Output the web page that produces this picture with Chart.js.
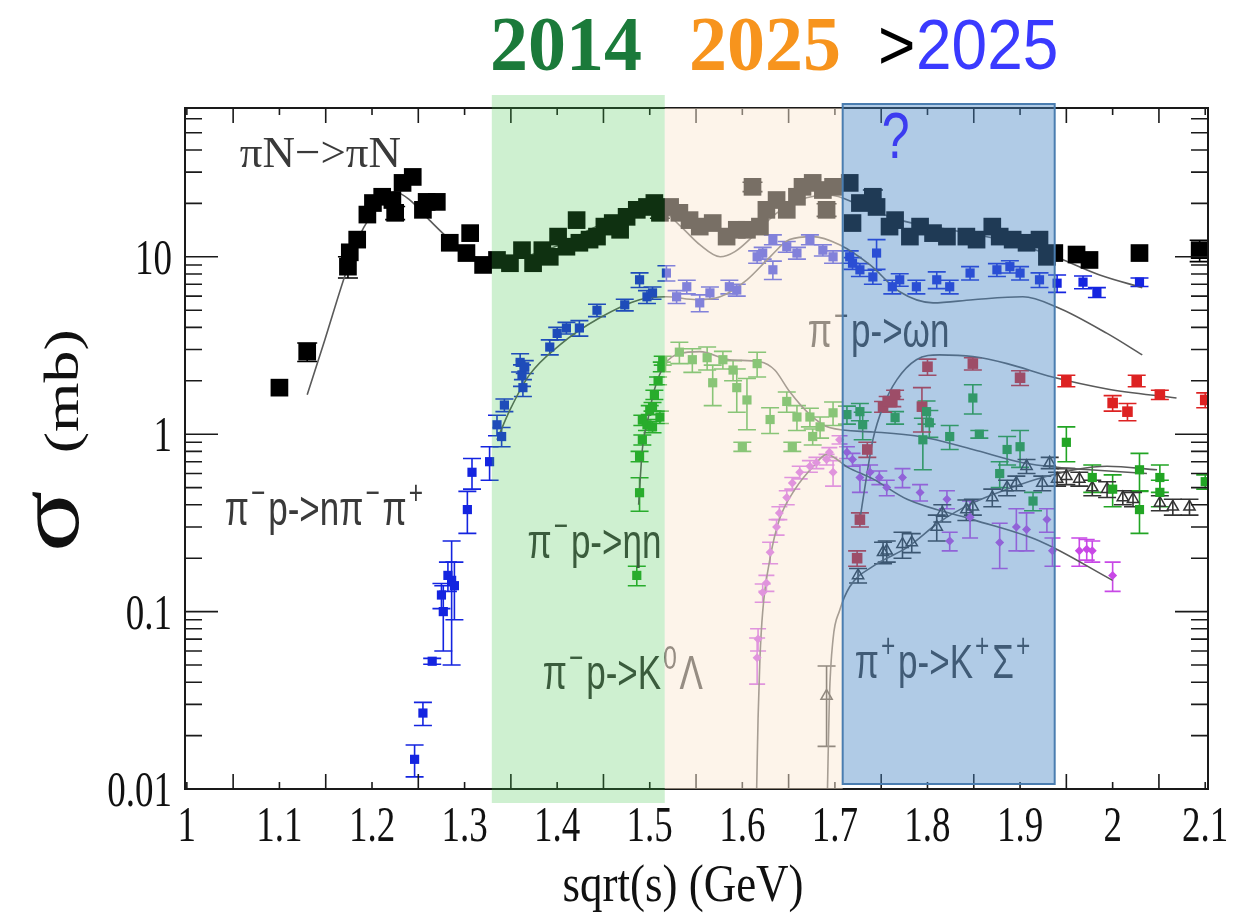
<!DOCTYPE html>
<html><head><meta charset="utf-8">
<script src="https://cdn.jsdelivr.net/npm/chart.js@4/dist/chart.umd.min.js"></script>
<style>html,body{margin:0;padding:0;background:#fff;}#wrap{width:1241px;height:918px;}</style>
</head><body><div id="wrap"><canvas id="c" width="1241" height="918"></canvas></div>
<script>
// ---------- tick labels ----------
const xTickValues = [1,1.1,1.2,1.3,1.4,1.5,1.6,1.7,1.8,1.9,2,2.1];
const xTickLabels = ['1','1.1','1.2','1.3','1.4','1.5','1.6','1.7','1.8','1.9','2','2.1'];
const yTickValues = [0.01,0.1,1,10];
const yTickLabels = ['0.01','0.1','1','10'];

// ---------- data: [sqrt(s) GeV, sigma mb, error mb] ----------
const piN_data = [[1.100,1.83,0],[1.130,2.92,0.35],[1.174,8.8,1.2],[1.176,10.6,0],[1.184,12.5,0],[1.195,17.3,0],[1.201,20.1,0],[1.211,21.8,0],[1.222,20.9,0],[1.225,17.7,1.5],[1.233,26.1,0],[1.244,28.2,0],[1.255,18.4,0],[1.259,20.4,0],[1.270,20.4,0],[1.284,12.0,0],[1.302,10.5,0],[1.306,13.6,0],[1.320,9.0,0],[1.335,9.6,0],[1.349,9.2,0],[1.362,10.9,0],[1.374,9.2,0],[1.384,10.9,0],[1.392,10.0,0],[1.401,13.0,0],[1.410,11.4,0],[1.421,16.1,0],[1.424,12.0,0],[1.435,12.5,0],[1.443,13.0,0],[1.451,14.8,0],[1.460,15.5,0],[1.468,14.2,0],[1.475,16.8,0],[1.486,18.4,0],[1.497,19.1,0],[1.505,20.1,0],[1.511,17.7,1.2],[1.522,19.1,0],[1.532,17.7,0],[1.543,16.1,0],[1.554,14.8,0],[1.568,15.5,0],[1.583,13.0,0],[1.594,14.2,0],[1.605,14.2,0],[1.611,24.8,1.5],[1.619,14.8,0],[1.626,18.4,0],[1.637,20.9,0],[1.648,18.4,0],[1.659,21.8,0],[1.665,24.8,0],[1.676,26.1,0],[1.687,23.8,0],[1.691,18.4,1.5],[1.698,24.8,0],[1.716,26.1,0],[1.719,15.5,0],[1.727,20.1,0],[1.741,21.8,2],[1.745,19.1,0],[1.759,14.8,0],[1.765,16.1,0],[1.781,13.0,0],[1.792,14.8,0],[1.806,13.6,0],[1.821,13.0,0],[1.842,13.0,0],[1.853,12.5,0],[1.870,14.8,0],[1.878,13.0,0],[1.892,12.5,0],[1.907,12.0,0],[1.921,12.5,0],[1.929,10.0,0],[1.937,10.5,0],[1.961,10.3,0],[1.975,9.6,0],[2.029,10.5,0],[2.094,10.9,1.5]];
const nPiPi_data = [[1.246,0.0147,0.003],[1.255,0.0268,0.004],[1.265,0.0525,0.002],[1.275,0.124,0.02],[1.277,0.1,0.04],[1.282,0.16,0.03],[1.286,0.15,0.1],[1.289,0.14,0.05],[1.303,0.376,0.1],[1.308,0.61,0.12],[1.327,0.70,0.15],[1.335,1.13,0.15],[1.340,0.97,0.12],[1.343,1.46,0.12],[1.360,2.54,0.3],[1.362,2.16,0.3],[1.363,1.83,0.2],[1.365,2.4,0.2],[1.392,3.1,0.3],[1.400,3.7,0.3],[1.410,3.97,0.3],[1.424,3.97,0.4],[1.443,5.0,0.4],[1.473,5.36,0.4],[1.489,7.42,0.7],[1.497,5.95,0.5],[1.503,6.26,0.5],[1.518,8.1,0.8],[1.529,5.95,0.5],[1.540,6.78,0.6],[1.554,5.5,0.6],[1.565,6.26,0.5],[1.586,6.78,0.6],[1.594,6.5,0.5],[1.616,10.0,0.8],[1.622,10.5,0.8],[1.633,8.45,1.0],[1.633,12.5,0.8],[1.648,11.4,0.8],[1.659,10.5,0.8],[1.673,12.5,0.8],[1.687,10.9,0.8],[1.698,10.0,0.8],[1.716,10.0,0.8],[1.719,9.2,0.7],[1.727,8.45,0.7],[1.741,7.7,0.7],[1.745,10.5,2.0],[1.762,6.78,0.6],[1.770,7.42,0.6],[1.788,6.78,0.6],[1.810,7.42,0.8],[1.824,6.78,0.6],[1.846,8.1,0.7],[1.875,8.45,0.7],[1.889,8.8,0.7],[1.900,8.1,0.7],[1.921,7.42,0.7],[1.940,7.1,0.8],[1.968,7.2,0.6],[1.983,6.3,0.4],[2.029,7.2,0.4]];
const etaN_data = [[1.486,0.16,0.02],[1.489,0.468,0.1],[1.489,0.75,0.05],[1.492,0.93,0.06],[1.492,1.2,0.08],[1.497,1.13,0.08],[1.500,1.37,0.08],[1.503,1.1,0.08],[1.503,1.43,0.08],[1.505,1.67,0.1],[1.509,2.0,0.1],[1.511,1.25,0.1],[1.513,2.4,0.15],[1.514,2.6,0.15],[1.532,2.9,0.4],[1.546,2.63,0.4],[1.562,2.7,0.4],[1.568,1.95,0.5],[1.579,2.63,0.3],[1.590,2.3,0.3],[1.594,1.83,0.5],[1.605,1.56,0.5],[1.600,0.85,0.05],[1.616,2.5,0.4],[1.630,1.21,0.2],[1.648,1.53,0.2],[1.654,0.85,0.05],[1.659,1.25,0.2],[1.673,1.25,0.15],[1.676,0.97,0.1],[1.684,1.1,0.15],[1.698,1.32,0.2],[1.713,1.29,0.15],[1.727,1.34,0.15],[1.730,1.13,0.2],[1.765,1.24,0.1],[1.795,0.93,0.3],[1.799,1.34,0.2],[1.802,1.16,0.2],[1.824,0.97,0.15],[1.849,1.6,0.3],[1.856,1.0,0.05],[1.878,0.6,0.1],[1.886,0.82,0.15],[1.900,0.85,0.2],[1.914,0.42,0.05],[1.950,0.9,0.2],[1.978,0.57,0.1],[2.000,0.49,0.1],[2.029,0.63,0.15],[2.029,0.376,0.1],[2.051,0.57,0.1],[2.051,0.47,0.08],[2.100,0.54,0.05]];
const omegaN_data = [[1.724,0.2,0.02],[1.727,0.33,0.03],[1.735,0.82,0.08],[1.752,1.43,0.1],[1.757,1.53,0.1],[1.762,1.53,0.1],[1.765,1.67,0.1],[1.794,1.43,0.4],[1.800,2.4,0.25],[1.849,2.5,0.2],[1.900,2.08,0.2],[1.950,2.0,0.15],[2.000,1.5,0.15],[2.016,1.34,0.15],[2.026,2.0,0.15],[2.051,1.67,0.1],[2.100,1.56,0.15]];
const K0Lambda_data = [[1.616,0.055,0.016],[1.617,0.07,0.01],[1.622,0.128,0.015],[1.626,0.145,0.015],[1.630,0.216,0.03],[1.637,0.30,0.03],[1.640,0.36,0.03],[1.648,0.44,0.04],[1.654,0.53,0.04],[1.662,0.61,0.05],[1.673,0.66,0.05],[1.680,0.69,0.05],[1.691,0.72,0.05],[1.694,0.79,0.05],[1.698,0.61,0.1],[1.705,0.93,0.05],[1.713,0.79,0.06],[1.719,0.72,0.06],[1.727,0.57,0.1],[1.738,0.61,0.06],[1.748,0.57,0.05],[1.756,0.5,0.05],[1.773,0.57,0.07],[1.792,0.47,0.05],[1.821,0.43,0.05],[1.824,0.25,0.03],[1.846,0.34,0.08],[1.878,0.245,0.07],[1.896,0.30,0.08],[1.907,0.29,0.07],[1.929,0.33,0.05],[1.935,0.22,0.04],[1.964,0.22,0.04],[1.972,0.225,0.03],[1.978,0.22,0.03],[2.000,0.16,0.03]];
const KSigma_data = [[1.691,0.0334,0.016],[1.725,0.16,0.015],[1.752,0.216,0.03],[1.756,0.22,0.03],[1.773,0.24,0.04],[1.783,0.245,0.03],[1.810,0.30,0.05],[1.816,0.36,0.04],[1.842,0.376,0.05],[1.849,0.39,0.04],[1.870,0.44,0.05],[1.886,0.50,0.05],[1.896,0.53,0.05],[1.907,0.66,0.06],[1.924,0.53,0.05],[1.932,0.69,0.05],[1.940,0.56,0.05],[1.950,0.58,0.06],[1.964,0.56,0.05],[1.978,0.50,0.05],[1.994,0.49,0.05],[2.011,0.44,0.04],[2.022,0.43,0.04],[2.051,0.41,0.04],[2.065,0.39,0.04],[2.083,0.39,0.04]];

// ---------- model curves: [sqrt(s), sigma] ----------
const piN_model = [[1.130,1.67],[1.149,3.4],[1.171,7.9],[1.187,13.3],[1.208,19.6],[1.225,23.2],[1.241,20.9],[1.262,16.1],[1.284,12.5],[1.306,10.3],[1.327,9.4],[1.36,9.9],[1.403,11.7],[1.446,15.1],[1.489,17.9],[1.511,18.4],[1.532,15.1],[1.554,11.7],[1.576,10.0],[1.592,10.7],[1.613,13.3],[1.635,17.3],[1.662,20.9],[1.694,22.3],[1.727,19.6],[1.77,16.1],[1.824,14.2],[1.878,12.5],[1.932,10.3],[1.986,7.9],[2.032,6.7]];
const nPiPi_model = [[1.335,0.93],[1.349,1.37],[1.37,2.16],[1.403,3.19],[1.446,4.53],[1.489,5.73],[1.518,5.95],[1.551,5.73],[1.576,5.95],[1.605,7.42],[1.63,10.0],[1.651,12.5],[1.676,13.0],[1.705,11.7],[1.738,9.0],[1.77,6.35],[1.806,5.5],[1.849,5.73],[1.903,5.95],[1.94,5.2],[1.994,3.7],[2.032,2.8]];
const etaN_model = [[1.488,0.4],[1.492,0.82],[1.498,1.21],[1.505,1.78],[1.516,2.46],[1.532,2.84],[1.554,2.92],[1.586,2.63],[1.619,2.56],[1.635,2.3],[1.651,1.74],[1.673,1.29],[1.694,1.09],[1.741,1.03],[1.792,0.97],[1.849,0.82],[1.903,0.69],[1.94,0.65],[1.975,0.63],[2.037,0.6]];
const omegaN_model = [[1.727,0.33],[1.734,0.57],[1.741,0.93],[1.752,1.43],[1.767,2.03],[1.788,2.63],[1.813,2.8],[1.849,2.74],[1.886,2.5],[1.935,2.1],[1.994,1.8],[2.069,1.6]];
const K0Lambda_model = [[1.6155,0.0101],[1.617,0.025],[1.619,0.054],[1.622,0.1],[1.63,0.2],[1.64,0.33],[1.657,0.49],[1.678,0.67],[1.691,0.77],[1.714,0.65],[1.741,0.56],[1.778,0.43],[1.849,0.33],[1.921,0.25],[2.0,0.15]];
const KSigma_model = [[1.692,0.0101],[1.694,0.032],[1.698,0.07],[1.705,0.101],[1.716,0.138],[1.741,0.18],[1.778,0.23],[1.813,0.32],[1.849,0.41],[1.886,0.49],[1.929,0.58],[1.994,0.66],[2.048,0.63]];

// ---------- annotation content ----------
const eraBands = [['2014',1.3294,1.5162],['2025',1.5162,1.7084],['>2025',1.7084,1.9374]];
const reactionLabels = [
  {segs:[['πN−>πN',0]], x:1.0572, y:32.1, serif:true},
  {segs:[['π',0],['−',1],['p->nπ',0],['−',1],['π',0],['+',1]], x:1.041, y:0.309},
  {segs:[['π',0],['−',1],['p->ηn',0]], x:1.368, y:0.2015},
  {segs:[['π',0],['−',1],['p->K',0],['0',1],['Λ',0]], x:1.3845, y:0.0364},
  {segs:[['π',0],['−',1],['p->ωn',0]], x:1.6706, y:3.11},
  {segs:[['π',0],['+',1],['p->K',0],['+',1],['Σ',0],['+',1]], x:1.7214, y:0.0425}
];

const toPts = a => a.map(p => ({x:p[0], y:p[1], e:p[2]}));
const toLine = a => a.map(p => ({x:p[0], y:p[1]}));

function ptsDS(label, arr, style, radius, color, extra){
  return Object.assign({label, data:toPts(arr), showLine:false, pointStyle:style, pointRadius:radius,
    pointBackgroundColor:color, pointBorderColor:color, pointBorderWidth:0, errColor:color, errs:true, capW:9}, extra||{});
}
function lineDS(label, arr){
  return {label, data:toLine(arr), showLine:true, pointRadius:0, borderColor:'#5a5a5a', borderWidth:1.6,
    cubicInterpolationMode:'monotone', fill:false};
}

const SERIF = '"Liberation Serif", "Times New Roman", serif';
const SANS = '"Liberation Sans", Arial, sans-serif';
const SY = 1.35;

function rich(ctx, segs, x, y, o){
  ctx.save();
  const sz = o.size;
  let w = 0;
  for (const [t,sup] of segs){ ctx.font = `${o.weight||'normal'} ${sup?sz*0.7:sz}px ${o.family}`; w += ctx.measureText(t).width + (sup? sz*0.14:0); }
  let sx = o.sx||1;
  let x0 = x;
  if (o.align==='center') x0 = x - w*sx/2; else if (o.align==='right') x0 = x - w*sx;
  ctx.translate(x0, y); ctx.scale(sx, o.sy||1);
  ctx.fillStyle = o.color; ctx.textBaseline='alphabetic'; ctx.textAlign='left';
  let cx = 0;
  for (const [t,sup] of segs){
    ctx.font = `${o.weight||'normal'} ${sup?sz*0.7:sz}px ${o.family}`;
    if (sup) cx += sz*0.06;
    ctx.fillText(t, cx, sup ? -sz*0.42 : 0);
    cx += ctx.measureText(t).width + (sup? sz*0.08:0);
  }
  ctx.restore();
}

const deco = {
  id:'deco',
  beforeDatasetsDraw(chart){
    const ctx=chart.ctx, xs=chart.scales.x, ys=chart.scales.y, a=chart.chartArea;
    ctx.save();
    ctx.beginPath(); ctx.rect(a.left,a.top,a.right-a.left,a.bottom-a.top); ctx.clip();
    chart.data.datasets.forEach(ds=>{
      if(!ds.errs) return;
      ctx.strokeStyle=ds.errColor; ctx.lineWidth=1.6;
      ds.data.forEach(p=>{
        if(!p.e) return;
        const px=xs.getPixelForValue(p.x);
        const lo=Math.max(p.y-p.e, 0.0101);
        const y1=ys.getPixelForValue(lo), y2=ys.getPixelForValue(p.y+p.e);
        ctx.beginPath();
        ctx.moveTo(px,y1); ctx.lineTo(px,y2);
        ctx.moveTo(px-ds.capW,y1); ctx.lineTo(px+ds.capW,y1);
        ctx.moveTo(px-ds.capW,y2); ctx.lineTo(px+ds.capW,y2);
        ctx.stroke();
      });
    });
    ctx.restore();
  },
  afterDraw(chart){
    const ctx=chart.ctx, xs=chart.scales.x, ys=chart.scales.y, a=chart.chartArea;
    ctx.save();
    // frame
    ctx.strokeStyle='#1a1a1a'; ctx.lineWidth=2;
    ctx.strokeRect(a.left,a.top,a.right-a.left,a.bottom-a.top);
    ctx.lineWidth=1.6;
    ctx.beginPath();
    for(let i=0;i<=22;i++){
      const v=1+i*0.05, px=xs.getPixelForValue(v), L=(i%2)?15:7;
      ctx.moveTo(px,a.bottom); ctx.lineTo(px,a.bottom-L);
      ctx.moveTo(px,a.top); ctx.lineTo(px,a.top+L);
    }
    for(let d=-2; d<=1; d++){
      for(let m=1;m<=9;m++){
        const v=m*Math.pow(10,d); if(v>69) break;
        const py=ys.getPixelForValue(v), L=(m===1)?33:17;
        ctx.moveTo(a.left,py); ctx.lineTo(a.left+L,py);
        ctx.moveTo(a.right,py); ctx.lineTo(a.right-L,py);
      }
    }
    ctx.stroke();
    // tick labels
    xTickValues.forEach((v,i)=>rich(ctx,[[xTickLabels[i],0]], xs.getPixelForValue(v), 841, {size:37,family:SERIF,color:'#111',sy:SY,align:'center'}));
    yTickValues.forEach((v,i)=>rich(ctx,[[yTickLabels[i],0]], 172, ys.getPixelForValue(v)+17, {size:37,family:SERIF,color:'#111',sy:SY,align:'right'}));
    // axis titles
    rich(ctx,[['sqrt(s) (GeV)',0]], 683, 901, {size:45,family:SERIF,color:'#111',sy:1.18,align:'center'});
    ctx.save();
    ctx.translate(78,552); ctx.rotate(-Math.PI/2); ctx.scale(1.3,1);
    ctx.fillStyle='#111'; ctx.textBaseline='alphabetic'; ctx.textAlign='left';
    ctx.font=`88px ${SERIF}`; ctx.fillText('σ',0,0);
    ctx.font=`49px ${SERIF}`; ctx.fillText('(mb)',76,0);
    ctx.restore();
    // reaction labels
    reactionLabels.forEach(l=>{
      const px=xs.getPixelForValue(l.x), py=ys.getPixelForValue(l.y);
      if(l.serif) rich(ctx,l.segs,px,py,{size:45,family:SERIF,color:'#3a3a3a',sy:1.0});
      else rich(ctx,l.segs,px,py,{size:35,family:SANS,color:'#3a3a3a',sy:1.38});
    });
    // era bands (translucent overlays)
    const [g,b,bl]=eraBands;
    let x1=xs.getPixelForValue(g[1]), x2=xs.getPixelForValue(g[2]);
    ctx.fillStyle='rgba(60,196,68,0.25)'; ctx.fillRect(x1,a.top-13,x2-x1,a.bottom-a.top+27);
    x1=xs.getPixelForValue(b[1]); x2=xs.getPixelForValue(b[2]);
    ctx.fillStyle='rgba(250,231,212,0.48)'; ctx.fillRect(x1,a.top,x2-x1,a.bottom-a.top);
    x1=xs.getPixelForValue(bl[1]); x2=xs.getPixelForValue(bl[2]);
    ctx.fillStyle='rgba(72,135,198,0.43)'; ctx.fillRect(x1,a.top-4,x2-x1,a.bottom-a.top-1);
    ctx.strokeStyle='#4a7db0'; ctx.lineWidth=2; ctx.strokeRect(x1,a.top-4,x2-x1,a.bottom-a.top-1);
    // question mark
    rich(ctx,[['?',0]], xs.getPixelForValue(1.7657), ys.getPixelForValue(36.1), {size:50,family:SANS,color:'#3c3cf0',sy:1.3,align:'center'});
    // header years
    rich(ctx,[['2014',0]], 490, 70, {size:76,family:SERIF,weight:'bold',color:'#1b7a3a',sy:1.03});
    rich(ctx,[['2025',0]], 689, 70, {size:76,family:SERIF,weight:'bold',color:'#f7941d',sy:1.03});
    rich(ctx,[['>',0]], 878, 69, {size:64,family:SANS,color:'#000',sy:1.1});
    rich(ctx,[['2025',0]], 916, 69, {size:64,family:SANS,color:'#3a3aff',sy:1.1});
    ctx.restore();
  }
};

new Chart(document.getElementById('c'), {
  type:'scatter',
  data:{datasets:[
    ptsDS('πN→πN', piN_data, 'rect', 12.5, '#000000', {capW:10}),
    ptsDS('π−p→nπ−π+', nPiPi_data, 'rect', 6.5, '#1424e0', {capW:9}),
    ptsDS('π−p→ηn', etaN_data, 'rect', 6.5, '#22a524', {capW:9}),
    ptsDS('π−p→ωn', omegaN_data, 'rect', 7.5, '#dd2222', {capW:9}),
    ptsDS('π−p→K0Λ', K0Lambda_data, 'rectRot', 4.5, '#c848e6', {capW:8}),
    ptsDS('π+p→K+Σ+', KSigma_data, 'triangle', 6.5, '#333333', {pointBackgroundColor:'rgba(0,0,0,0)', pointBorderWidth:1.5, capW:9}),
    lineDS('πN model', piN_model),
    lineDS('nππ model', nPiPi_model),
    lineDS('ηn model', etaN_model),
    lineDS('ωn model', omegaN_model),
    lineDS('K0Λ model', K0Lambda_model),
    lineDS('K+Σ+ model', KSigma_model)
  ]},
  options:{
    responsive:false, animation:false, devicePixelRatio:1,
    layout:{padding:{left:0,right:33,top:108,bottom:0}},
    plugins:{legend:{display:false}, tooltip:{enabled:false}},
    scales:{
      x:{type:'linear', min:0.998, max:2.103, bounds:'data',
        afterBuildTicks:s=>{s.ticks=xTickValues.map(v=>({value:v}));},
        afterFit:s=>{s.height=129;},
        grid:{display:false}, border:{display:false},
        ticks:{display:false}},
      y:{type:'logarithmic', min:0.01, max:69,
        afterBuildTicks:s=>{s.ticks=yTickValues.map(v=>({value:v}));},
        afterFit:s=>{s.width=185;},
        grid:{display:false}, border:{display:false},
        ticks:{display:false}}
    }
  },
  plugins:[deco]
});
</script>
</body></html>
